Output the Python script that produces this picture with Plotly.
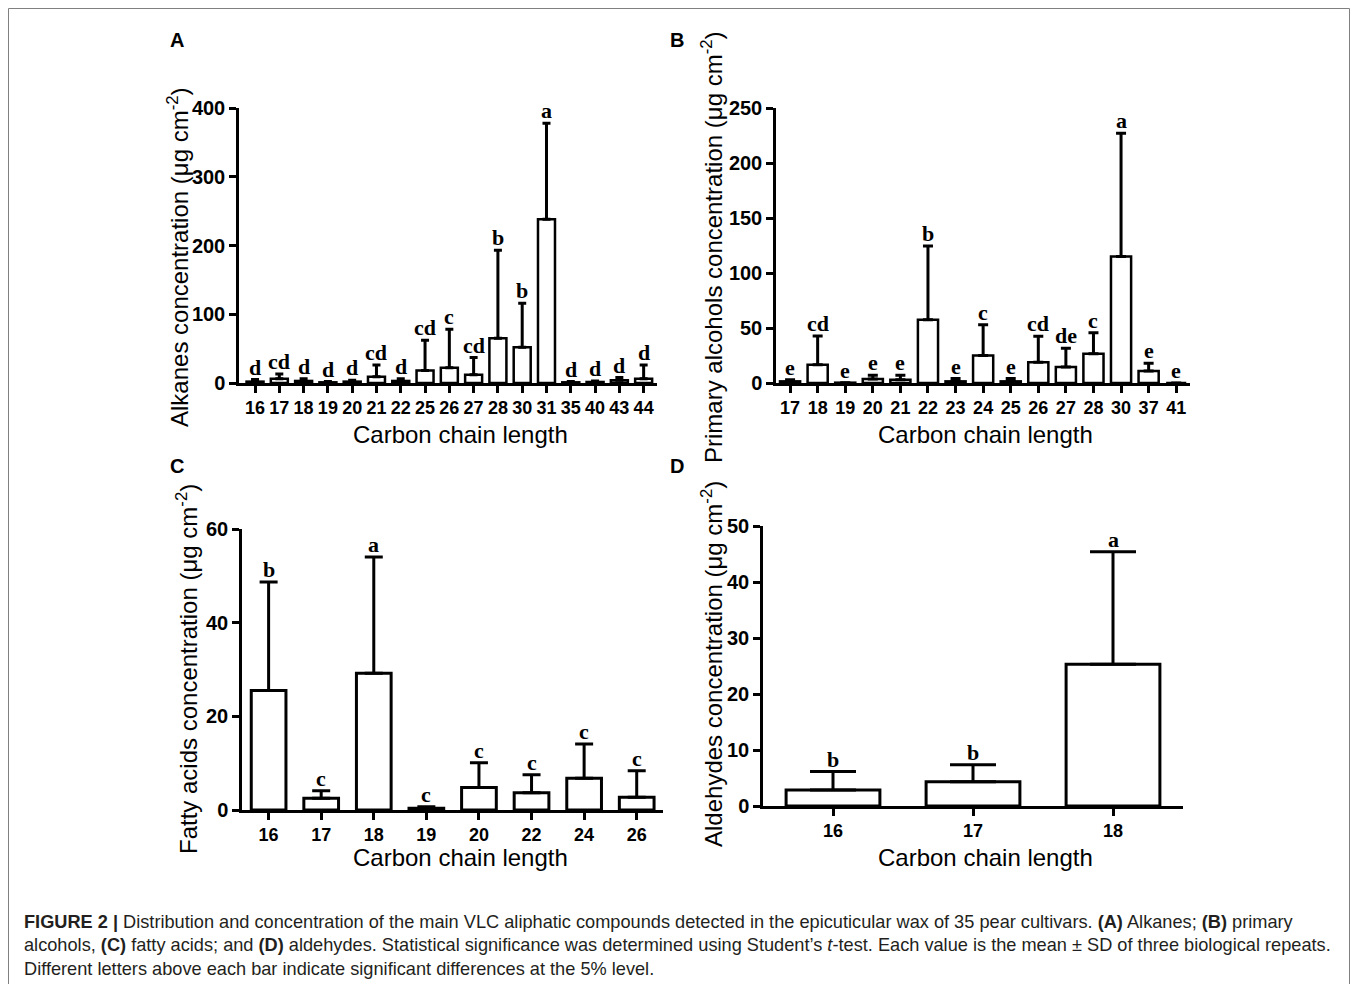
import plotly.graph_objects as go

# the figure fills the whole 1358x984 page (body margin removed after plotting)
PAGE_OFF = 0
W, H = 1358, 984

# ---------------- data ----------------
a_cats = ["16", "17", "18", "19", "20", "21", "22", "25", "26", "27", "28", "30", "31", "35", "40", "43", "44"]
a_mean = [2, 6, 3, 1, 2, 9, 3, 18, 22, 12, 65, 52, 238, 1, 1.5, 4, 6]
a_sd = [3, 7, 3, 1, 2, 17, 3, 44, 56, 25, 128, 64, 140, 1, 1.5, 4, 20]
a_letters = ["d", "cd", "d", "d", "d", "cd", "d", "cd", "c", "cd", "b", "b", "a", "d", "d", "d", "d"]

b_cats = ["17", "18", "19", "20", "21", "22", "23", "24", "25", "26", "27", "28", "30", "37", "41"]
b_mean = [1.5, 16.7, 0.3, 3.6, 3, 57.6, 1.5, 25, 1.5, 18.8, 14.5, 26.7, 115, 11, 0]
b_sd = [1.5, 26, 0, 3.4, 4, 67, 2.5, 28, 2.5, 23.6, 17, 19, 112, 7, 0]
b_letters = ["e", "cd", "e", "e", "e", "b", "e", "c", "e", "cd", "de", "c", "a", "e", "e"]

c_cats = ["16", "17", "18", "19", "20", "22", "24", "26"]
c_mean = [25.5, 2.5, 29.2, 0.4, 4.8, 3.7, 6.8, 2.7]
c_sd = [23.2, 1.6, 24.8, 0.3, 5.3, 3.8, 7.3, 5.7]
c_letters = ["b", "c", "a", "c", "c", "c", "c", "c"]

d_cats = ["16", "17", "18"]
d_mean = [2.86, 4.35, 25.3]
d_sd = [3.3, 3.0, 20.1]
d_letters = ["b", "b", "a"]

y_title_a = "Alkanes concentration (μg cm<sup>-2</sup>)"
y_title_b = "Primary alcohols concentration (μg cm<sup>-2</sup>)"
y_title_c = "Fatty acids concentration (μg cm<sup>-2</sup>)"
y_title_d = "Aldehydes concentration (μg cm<sup>-2</sup>)"
x_title = "Carbon chain length"

caption_lines = [
    "<b>FIGURE 2 |</b> Distribution and concentration of the main VLC aliphatic compounds detected in the epicuticular wax of 35 pear cultivars. <b>(A)</b> Alkanes; <b>(B)</b> primary",
    "alcohols, <b>(C)</b> fatty acids; and <b>(D)</b> aldehydes. Statistical significance was determined using Student’s <i>t</i>-test. Each value is the mean ± SD of three biological repeats.",
    "Different letters above each bar indicate significant differences at the 5% level.",
]

# ---------------- helpers ----------------
def fx(px):
    return (px - PAGE_OFF) / W

def fy(py):
    return 1 - (py - PAGE_OFF) / H

SANS = "Liberation Sans, Arial, sans-serif"
SERIF = "Liberation Serif, Times New Roman, serif"

panels = [
    dict(c=a_cats, m=a_mean, s=a_sd, l=a_letters, xd=(239, 657), yd=(383, 108), yr=(0, 400), dt=100,
         bw=0.7, cap=4, lw=2.5, xr=(-0.66, 16.55), yt=y_title_a, ytp=(178, 257), xtp=(460, 434), lab="A", labp=(177, 40)),
    dict(c=b_cats, m=b_mean, s=b_sd, l=b_letters, xd=(776, 1190), yd=(383, 108), yr=(0, 250), dt=50,
         bw=0.73, cap=5, lw=2.5, xr=(-0.51, 14.5), yt=y_title_b, ytp=(712, 247), xtp=(985, 434), lab="B", labp=(677, 40)),
    dict(c=c_cats, m=c_mean, s=c_sd, l=c_letters, xd=(242, 663), yd=(810, 529), yr=(0, 60), dt=20,
         bw=0.66, cap=9, lw=3, xr=(-0.506, 7.5), yt=y_title_c, ytp=(187, 669), xtp=(460, 857), lab="C", labp=(177, 466)),
    dict(c=d_cats, m=d_mean, s=d_sd, l=d_letters, xd=(763, 1183), yd=(806, 526), yr=(0, 50), dt=10,
         bw=0.67, cap=23, lw=3, xr=(-0.5, 2.5), yt=y_title_d, ytp=(712, 664), xtp=(985, 857), lab="D", labp=(677, 466)),
]

fig = go.Figure()
layout = dict(
    template="none",
    width=W, height=H, margin=dict(l=0, r=0, t=0, b=0, pad=0, autoexpand=False),
    paper_bgcolor="white", plot_bgcolor="rgba(0,0,0,0)", showlegend=False,
    font=dict(family=SANS, color="black"),
)
annotations = []

for i, p in enumerate(panels):
    k = "" if i == 0 else str(i + 1)
    xa, ya = "x" + k, "y" + k
    fig.add_trace(go.Bar(
        x=p["c"], y=p["m"], width=p["bw"], xaxis=xa, yaxis=ya,
        marker=dict(color="white", line=dict(color="black", width=p["lw"])),
        error_y=dict(type="data", symmetric=False, array=p["s"], arrayminus=[0] * len(p["s"]),
                     color="black", thickness=3, width=p["cap"]),
        hoverinfo="x+y",
    ))
    layout["xaxis" + k] = dict(
        domain=[fx(p["xd"][0]), fx(p["xd"][1])], anchor=ya, type="category", automargin=False,
        range=list(p["xr"]), showline=True, linecolor="black", linewidth=2.5,
        ticks="outside", ticklen=7, tickwidth=2.5, tickcolor="black",
        showgrid=False, zeroline=False,
        tickfont=dict(family=SANS, size=18, color="black", weight="bold"),
    )
    layout["yaxis" + k] = dict(
        domain=[fy(p["yd"][0]), fy(p["yd"][1])], anchor=xa, automargin=False,
        range=list(p["yr"]), dtick=p["dt"], tick0=0, showline=True, linecolor="black", linewidth=2.5,
        ticks="outside", ticklen=7, tickwidth=2.5, tickcolor="black",
        showgrid=False, zeroline=False,
        tickfont=dict(family=SANS, size=20, color="black", weight="bold"),
    )
    # significance letters (positioned by category index)
    for idx, (m, s, l) in enumerate(zip(p["m"], p["s"], p["l"])):
        annotations.append(dict(
            x=idx, y=m + s, xref=xa, yref=ya, text="<b>" + l + "</b>", showarrow=False,
            xanchor="center", yanchor="bottom", yshift=-2, font=dict(family=SERIF, size=22, color="black"),
        ))
    # axis titles
    annotations.append(dict(
        x=fx(p["ytp"][0]), y=fy(p["ytp"][1]), xref="paper", yref="paper", text=p["yt"],
        textangle=-90, showarrow=False, xanchor="center", yanchor="middle",
        font=dict(family=SANS, size=24, color="black"),
    ))
    annotations.append(dict(
        x=fx(p["xtp"][0]), y=fy(p["xtp"][1]), xref="paper", yref="paper", text=x_title,
        showarrow=False, xanchor="center", yanchor="middle",
        font=dict(family=SANS, size=24, color="black"),
    ))
    annotations.append(dict(
        x=fx(p["labp"][0]), y=fy(p["labp"][1]), xref="paper", yref="paper", text="<b>" + p["lab"] + "</b>",
        showarrow=False, xanchor="center", yanchor="middle",
        font=dict(family=SANS, size=20, color="black"),
    ))

caption_y = [921.5, 945, 968.5]
for line, cy in zip(caption_lines, caption_y):
    annotations.append(dict(
        x=fx(22), y=fy(cy), xref="paper", yref="paper", text=line,
        showarrow=False, xanchor="left", yanchor="middle", align="left",
        font=dict(family=SANS, size=18.2, color="#231f20"),
    ))

layout["annotations"] = annotations
layout["shapes"] = [dict(
    type="rect", xref="paper", yref="paper", x0=fx(8.5), x1=fx(1349.5), y0=fy(1000), y1=fy(8.5),
    line=dict(color="#808080", width=1), fillcolor="rgba(0,0,0,0)", layer="below",
)]
fig.update_layout(**layout)
fig.write_html(
    "out.html",
    config={"displayModeBar": False},
    post_script="document.body.style.margin='0';document.body.style.overflow='hidden';",
)
